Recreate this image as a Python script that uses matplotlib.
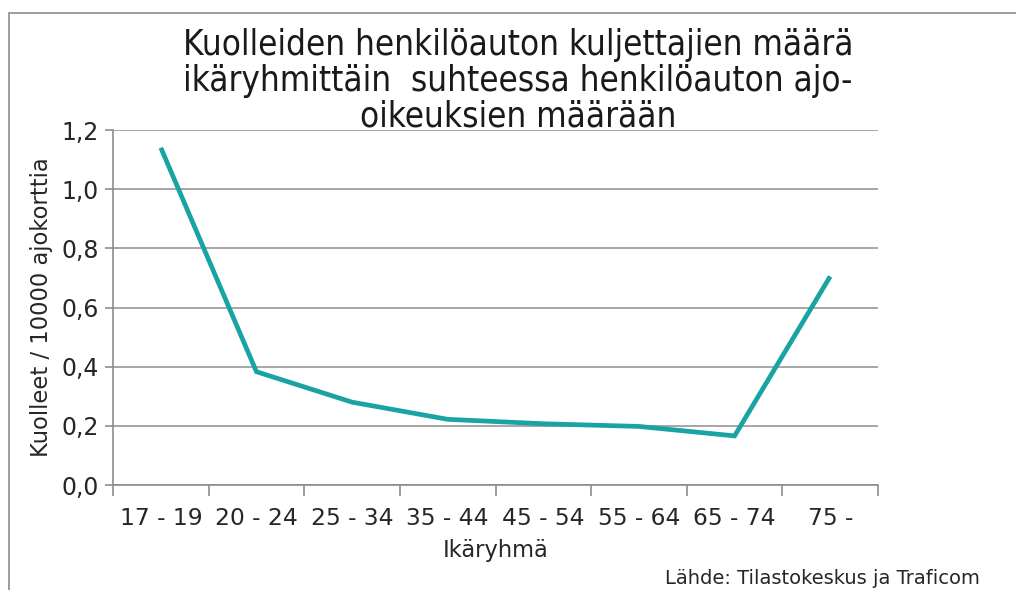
import matplotlib
matplotlib.use("Agg")
import matplotlib.pyplot as plt
from matplotlib.patches import Rectangle

categories = ["17 - 19", "20 - 24", "25 - 34", "35 - 44", "45 - 54", "55 - 64", "65 - 74", "75 -"]
values = [1.14, 0.383, 0.28, 0.222, 0.207, 0.198, 0.166, 0.705]
yticks = [0.0, 0.2, 0.4, 0.6, 0.8, 1.0, 1.2]
ytick_labels = ["0,0", "0,2", "0,4", "0,6", "0,8", "1,0", "1,2"]

title = "Kuolleiden henkilöauton kuljettajien määrä\nikäryhmittäin  suhteessa henkilöauton ajo-\noikeuksien määrään"
xlabel = "Ikäryhmä"
ylabel = "Kuolleet / 10000 ajokorttia"
source = "Lähde: Tilastokeskus ja Traficom"

W, H = 1016, 590
fig = plt.figure(figsize=(W / 100, H / 100), dpi=100)
fig.patch.set_facecolor("white")

# outer frame
fig.patches.append(Rectangle((9 / W, -0.1), 1.2, (H - 12.5) / H + 0.1,
                             transform=fig.transFigure, fill=False,
                             edgecolor="#8c8c8c", linewidth=1.2))

ax = fig.add_axes([113 / W, (H - 485) / H, (878 - 113) / W, (485 - 130) / H])
x = list(range(len(categories)))
ax.plot(x, values, color="#19a3a3", linewidth=3.4, solid_joinstyle="miter",
        solid_capstyle="butt", zorder=3)

ax.set_xlim(-0.5, len(categories) - 0.5)
ax.set_ylim(0, 1.2)
ax.set_yticks(yticks)
ax.set_yticklabels(ytick_labels, fontsize=17, color="#262626", family="DejaVu Sans")
ax.set_xticks([i + 0.5 for i in range(-1, len(categories))], minor=False)
ax.set_xticklabels([])
ax.set_xticks(x, minor=True)
ax.set_xticklabels(categories, minor=True, fontsize=16.8, color="#262626", family="DejaVu Sans")
ax.tick_params(axis="x", which="minor", length=0, pad=16)
ax.tick_params(axis="x", which="major", length=8, color="#8c8c8c", width=1.2, direction="out")
ax.tick_params(axis="y", length=6, color="#8c8c8c", width=1.2, pad=4)
ax.grid(axis="y", color="#a6a6a6", linewidth=1.4)
ax.set_axisbelow(True)
for s in ["top", "right"]:
    ax.spines[s].set_visible(False)
for s in ["left", "bottom"]:
    ax.spines[s].set_color("#8c8c8c")
    ax.spines[s].set_linewidth(1.2)

ax.set_xlabel(xlabel, fontsize=16.3, color="#262626", labelpad=6, family="DejaVu Sans")
ax.set_ylabel(ylabel, fontsize=16.3, color="#262626", labelpad=6, family="DejaVu Sans")

fig.text(518 / W, 1 - 81 / H, title, ha="center", va="center", fontsize=25,
         linespacing=1.07, color="#1a1a1a", family="DejaVu Sans", fontstretch="condensed")
fig.text(980 / W, 1 - 578 / H, source, ha="right", va="center", fontsize=14,
         color="#262626", family="DejaVu Sans")

fig.savefig("out.png", dpi=100, facecolor="white")
